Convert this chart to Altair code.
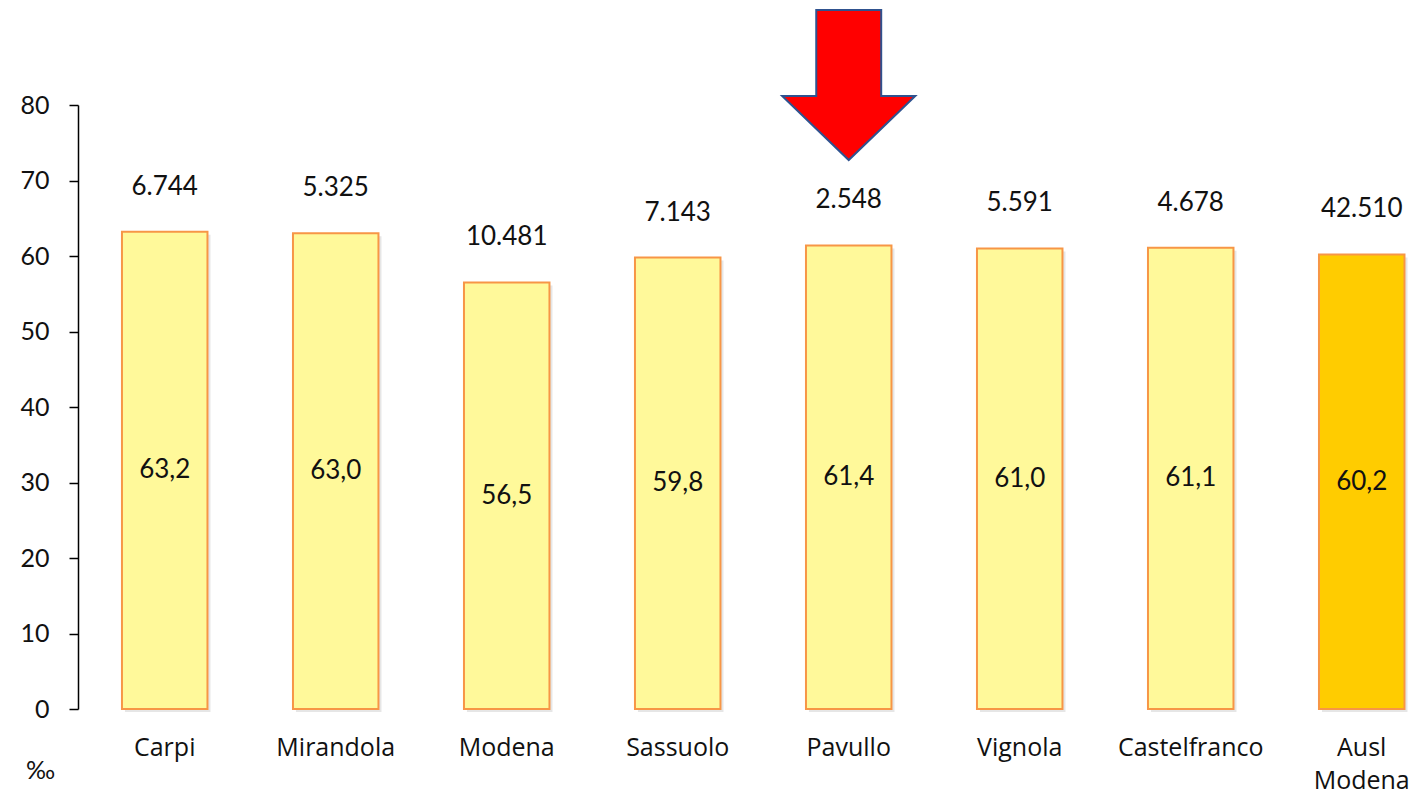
import altair as alt
import pandas as pd

categories = ["Carpi", "Mirandola", "Modena", "Sassuolo", "Pavullo", "Vignola", "Castelfranco", "Ausl Modena"]
rates = [63.2, 63.0, 56.5, 59.8, 61.4, 61.0, 61.1, 60.2]
counts = [6744, 5325, 10481, 7143, 2548, 5591, 4678, 42510]
group = ["distretto"] * 7 + ["ausl"]

df = pd.DataFrame({"cat": categories, "rate": rates, "n": counts, "grp": group})

FONT = "Lato"
LABFONT = "Open Sans"
TXT = "#111111"

x = alt.X(
    "cat:N",
    sort=categories,
    scale=alt.Scale(paddingInner=0.5, paddingOuter=0.1564, align=0.822),
    axis=alt.Axis(
        title=None, domain=False, ticks=False, grid=False, labelAngle=0,
        labelFont=LABFONT, labelFontSize=25, labelColor=TXT,
        labelPadding=26, labelLineHeight=33,
        labelExpr="split(datum.label, ' ')",
    ),
)
y = alt.Y(
    "rate:Q",
    scale=alt.Scale(domain=[0, 80]),
    axis=alt.Axis(
        values=[0, 10, 20, 30, 40, 50, 60, 70, 80],
        grid=False, domainColor="#000000", domainWidth=1.5,
        tickColor="#000000", tickSize=9, tickWidth=1.5,
        labelFont=FONT, labelFontSize=25, labelColor=TXT, labelPadding=20,
        title="‰", titleAngle=0, titleFont=FONT, titleFontSize=25,
        titleFontWeight="normal", titleColor=TXT, titleX=-38, titleY=665,
        titleAlign="center", titleBaseline="middle",
    ),
)

base = alt.Chart(df)

shadow = base.mark_bar(color="#9a9a9a", opacity=0.25, xOffset=3, yOffset=3).encode(x=x, y=y)

bars = base.mark_bar(stroke="#F79646", strokeWidth=2).encode(
    x=x, y=y,
    color=alt.Color("grp:N", scale=alt.Scale(domain=["distretto", "ausl"], range=["#FFF99A", "#FFCC00"]), legend=None),
)

inner = base.transform_calculate(
    lab="replace(format(datum.rate, '.1f'), '.', ',')",
    mid="datum.rate / 2",
).mark_text(font=FONT, fontSize=26, color=TXT, baseline="middle").encode(
    x=x, y=alt.Y("mid:Q"), text="lab:N"
)

top = base.transform_calculate(
    lab="replace(format(datum.n, ','), ',', '.')",
).mark_text(font=FONT, fontSize=26, color=TXT, baseline="middle", dy=-45).encode(
    x=x, y=alt.Y("rate:Q"), text="lab:N"
)

arrow_path = "M -0.433 -1 L 0.433 -1 L 0.433 0.147 L 0.887 0.147 L 0 1 L -0.887 0.147 L -0.433 0.147 Z"
arrow = alt.Chart(pd.DataFrame({"cat": ["Pavullo"]})).mark_point(
    shape=arrow_path, size=22500, filled=True, fill="#FF0000", fillOpacity=1,
    stroke="#2F528F", strokeWidth=2, opacity=1,
).encode(x=x, y=alt.value(-20))

chart = alt.layer(shadow, bars, inner, top, arrow).properties(
    width=1336, height=604,
    background="#ffffff",
    autosize=alt.AutoSizeParams(type="none"),
    padding={"left": 70, "top": 97, "right": 0, "bottom": 87},
).configure_view(stroke=None, strokeWidth=0)

chart.save("out.html", embed_options={"renderer": "svg", "actions": False})
